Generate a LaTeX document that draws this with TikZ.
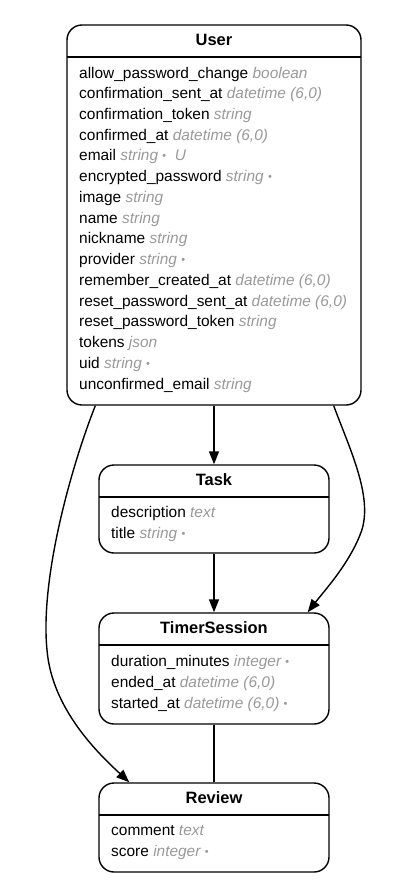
\documentclass[tikz,border=0pt]{standalone}
\usepackage{fontspec}
\setmainfont{Liberation Sans}
\usetikzlibrary{arrows.meta,calc}

\definecolor{typegrey}{HTML}{999999}
\newcommand\ty[1]{{\color{typegrey}\itshape #1}}
\newcommand\req{\ {\color{typegrey}\fontsize{11}{11}\selectfont\raisebox{1bp}{•}}}

\begin{document}
\begin{tikzpicture}[x=1bp,y=-1bp,
    entity/.style={draw,line width=1.4bp,rounded corners=15bp,inner sep=0pt},
    head/.style={font=\fontsize{16.5}{18}\selectfont\bfseries,inner sep=0pt},
    field/.style={anchor=base west,font=\fontsize{15.5}{17}\selectfont,inner sep=0pt},
    rule/.style={line width=1.4bp},
    link/.style={line width=1.4bp,-{Triangle[length=13bp,width=10bp]}}]
  \useasboundingbox (0,0) rectangle (404,880);

  % User
  \node[entity,minimum width=294bp,minimum height=380bp] (user) at (214,215) {};
  \node[head] (userHead) at (214,40) {User};
  \draw[rule] (67,57) -- (361,57);
  \node[field] at (79,78.0) {allow\_password\_change \ty{boolean}};
  \node[field] at (79,98.7) {confirmation\_sent\_at \ty{datetime (6,0)}};
  \node[field] at (79,119.5) {confirmation\_token \ty{string}};
  \node[field] at (79,140.2) {confirmed\_at \ty{datetime (6,0)}};
  \node[field] at (79,160.9) {email \ty{string}\req\ \ \ty{U}};
  \node[field] at (79,181.7) {encrypted\_password \ty{string}\req};
  \node[field] at (79,202.4) {image \ty{string}};
  \node[field] at (79,223.1) {name \ty{string}};
  \node[field] at (79,243.8) {nickname \ty{string}};
  \node[field] at (79,264.6) {provider \ty{string}\req};
  \node[field] at (79,285.3) {remember\_created\_at \ty{datetime (6,0)}};
  \node[field] at (79,306.0) {reset\_password\_sent\_at \ty{datetime (6,0)}};
  \node[field] at (79,326.8) {reset\_password\_token \ty{string}};
  \node[field] at (79,347.5) {tokens \ty{json}};
  \node[field] at (79,368.2) {uid \ty{string}\req};
  \node[field] at (79,389.0) {unconfirmed\_email \ty{string}};

  % Task
  \node[entity,minimum width=230bp,minimum height=88bp] (task) at (214,509) {};
  \node[head] (taskHead) at (214,480) {Task};
  \draw[rule] (99,497) -- (329,497);
  \node[field] at (111,517) {description \ty{text}};
  \node[field] at (111,538) {title \ty{string}\req};

  % TimerSession
  \node[entity,minimum width=230bp,minimum height=111bp] (timer) at (214,668.5) {};
  \node[head] (timerHead) at (214,628) {TimerSession};
  \draw[rule] (99,645) -- (329,645);
  \node[field] at (111,666) {duration\_minutes \ty{integer}\req};
  \node[field] at (111,687) {ended\_at \ty{datetime (6,0)}};
  \node[field] at (111,708) {started\_at \ty{datetime (6,0)}\req};

  % Review
  \node[entity,minimum width=230bp,minimum height=89bp] (review) at (214,827.5) {};
  \node[head] (reviewHead) at (214,798) {Review};
  \draw[rule] (99,815) -- (329,815);
  \node[field] at (111,835) {comment \ty{text}};
  \node[field] at (111,856) {score \ty{integer}\req};

  % links
  \draw[link] (user.south) -- (task.north);
  \draw[link] (task.south) -- (timer.north);
  \draw[rule] (timer.south) -- (review.north);
  \draw[link] ($(user.south east)+(-28,0)$)
    .. controls (350,450) and (375,500) .. (360,535)
    .. controls (348,565) and (325,590) .. ($(timer.north east)+(-22,0)$);
  \draw[link] ($(user.south west)+(29,0)$)
    .. controls (70,470) and (40,580) .. (47,650)
    .. controls (52,710) and (100,755) .. ($(review.north west)+(31,0)$);
\end{tikzpicture}
\end{document}
